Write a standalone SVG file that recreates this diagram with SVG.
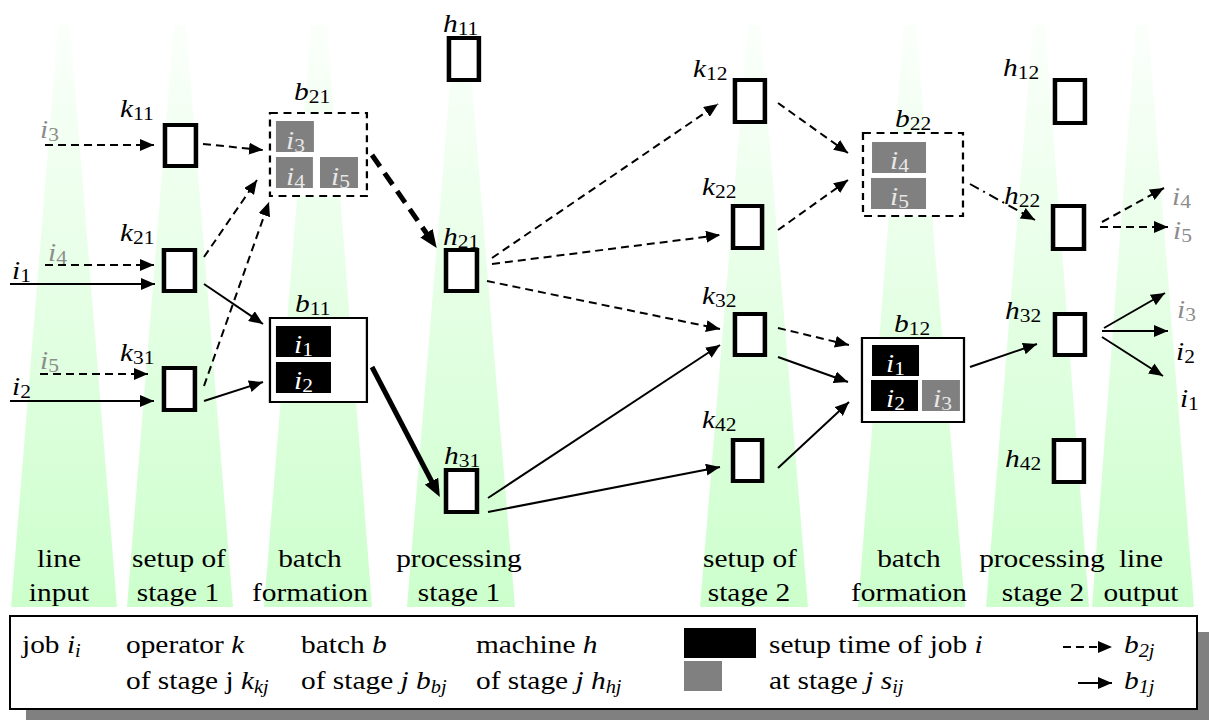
<svg xmlns="http://www.w3.org/2000/svg" width="1209" height="720" viewBox="0 0 1209 720">
<style>
text{font-family:'Liberation Serif',serif;font-size:26px}
.m{text-anchor:middle}
.i{font-style:italic}
.u{font-size:19px;font-style:normal}
.v{font-size:18px;font-style:italic}
.q{fill:#8c8c8c}
.w{fill:#fff}
.l{fill:#e8e8e8}
.b{fill:#fff;stroke:#000;stroke-width:4}
.c{fill:#fff;stroke:#000;stroke-width:2}
.e{stroke-dasharray:7 5}
.k{fill:#000}
.y{fill:#808080}
.d,.s,.o,.x,.z{fill:none;stroke:#000;stroke-width:2;marker-end:url(#a)}
.d{stroke-dasharray:8 5}
.o{stroke-dasharray:10 5 2 5}
.x,.z{stroke-width:5;marker-end:url(#A)}
.x{stroke-dasharray:14 8}
</style>
<defs>
<linearGradient id="f" x1="0" y1="0" x2="0" y2="1"><stop offset="0" stop-color="#fbfffb"/><stop offset="1" stop-color="#ccffcc"/></linearGradient>
<marker id="a" markerUnits="userSpaceOnUse" markerWidth="14" markerHeight="12" refX="14" refY="6" orient="auto"><path d="M0 0 14 6 0 12z"/></marker>
<marker id="A" markerUnits="userSpaceOnUse" markerWidth="18" markerHeight="15" refX="1" refY="7.5" orient="auto"><path d="M0 0 18 7.5 0 15z"/></marker>
</defs>
<rect width="1209" height="720" fill="#fff"/>
<!-- lanes -->
<g id="lanes" fill="url(#f)">
<path d="M58 25H70L117 607H11z"/>
<path d="M174 25H186L233 607H127z"/>
<path d="M311 25H327L372 607H264z"/>
<path d="M455 25H467L515 607H407z"/>
<path d="M748 25H760L808 607H700z"/>
<path d="M904 25H916L965 607H858z"/>
<path d="M1033 25H1045L1089 607H986z"/>
<path d="M1136 25H1148L1194 607H1092z"/>
</g>
<g id="lane-labels" class="m" transform="scale(1.13 1)">
<text x="52.2" y="567">line</text><text x="52.2" y="601">input</text>
<text x="158.4" y="567">setup of</text><text x="157.5" y="601">stage 1</text>
<text x="274.3" y="567">batch</text><text x="274.3" y="601">formation</text>
<text x="406.2" y="567">processing</text><text x="406.2" y="601">stage 1</text>
<text x="663.7" y="567">setup of</text><text x="662.8" y="601">stage 2</text>
<text x="804.4" y="567">batch</text><text x="804.4" y="601">formation</text>
<text x="922.1" y="567">processing</text><text x="923" y="601">stage 2</text>
<text x="1009.7" y="567">line</text><text x="1009.7" y="601">output</text>
</g>
<!-- flows -->
<g id="connectors">
<path class="d" d="M45 145H154"/>
<path class="d" d="M45 265H154"/>
<path class="d" d="M40 374H148"/>
<path class="s" d="M10 284H155"/>
<path class="s" d="M10 401H154"/>
<path class="d" d="M203 144 263 150"/>
<path class="d" d="M204 257 257 180"/>
<path class="d" d="M204 386 269 202"/>
<path class="s" d="M204 284 263 324"/>
<path class="s" d="M204 401 263 382"/>
<path class="x" d="M372 155 427 234"/>
<path class="z" d="M372 367 432 482"/>
<path class="d" d="M492 258 718 104"/>
<path class="d" d="M492 264 720 235"/>
<path class="d" d="M487 281 720 329"/>
<path class="s" d="M488 498 720 345"/>
<path class="s" d="M488 512 720 467"/>
<path class="d" d="M778 103 848 153"/>
<path class="d" d="M778 230 848 180"/>
<path class="d" d="M778 328 849 345"/>
<path class="s" d="M778 357 848 382"/>
<path class="s" d="M778 468 849 402"/>
<path class="o" d="M970 184 1035 220"/>
<path class="s" d="M970 367 1037 344"/>
<path class="d" d="M1102 222 1164 188"/>
<path class="d" d="M1100 227H1168"/>
<path class="s" d="M1104 328 1165 293"/>
<path class="s" d="M1102 331H1168"/>
<path class="s" d="M1102 337 1163 376"/>
</g>
<g id="jobs-in" class="i" transform="scale(1.13 1)">
<text class="q" x="35.4" y="138">i<tspan class="u" dy="3">3</tspan></text>
<text class="q" x="42.5" y="261">i<tspan class="u" dy="3">4</tspan></text>
<text class="q" x="35.4" y="369">i<tspan class="u" dy="3">5</tspan></text>
<text x="10.6" y="279">i<tspan class="u" dy="3">1</tspan></text>
<text x="10.6" y="395">i<tspan class="u" dy="3">2</tspan></text>
</g>
<!-- stage 1 -->
<g id="k11" class="i" transform="scale(1.13 1)"><rect class="b" x="146" y="125" width="27.4" height="41"/><text x="106.2" y="117">k<tspan class="u" dy="3">11</tspan></text></g>
<g id="k21" class="i" transform="scale(1.13 1)"><rect class="b" x="145.1" y="250" width="27.4" height="41"/><text x="106.2" y="241">k<tspan class="u" dy="3">21</tspan></text></g>
<g id="k31" class="i" transform="scale(1.13 1)"><rect class="b" x="145.1" y="368" width="27.4" height="42"/><text x="106.2" y="361">k<tspan class="u" dy="3">31</tspan></text></g>
<g id="b21" class="i" transform="scale(1.13 1)">
<rect class="c e" x="238.9" y="113" width="85.8" height="83"/>
<rect class="y" x="244.2" y="121" width="33.6" height="31"/>
<rect class="y" x="244.2" y="157" width="32.7" height="31"/>
<rect class="y" x="283.2" y="157" width="33.6" height="31"/>
<text class="l" x="253.1" y="149">i<tspan class="u" dy="3">3</tspan></text>
<text class="l" x="253.1" y="185">i<tspan class="u" dy="3">4</tspan></text>
<text class="l" x="292.9" y="185">i<tspan class="u" dy="3">5</tspan></text>
<text x="260.2" y="100">b<tspan class="u" dy="3">21</tspan></text>
</g>
<g id="b11" class="i" transform="scale(1.13 1)">
<rect class="c" x="238.9" y="318" width="85.8" height="84"/>
<rect class="k" x="244.2" y="326" width="48.7" height="31"/>
<rect class="k" x="244.2" y="362" width="48.7" height="31"/>
<text class="w" x="260.2" y="353">i<tspan class="u" dy="3">1</tspan></text>
<text class="w" x="260.2" y="389">i<tspan class="u" dy="3">2</tspan></text>
<text x="261.1" y="312">b<tspan class="u" dy="3">11</tspan></text>
</g>
<g id="h11" class="i" transform="scale(1.13 1)"><rect class="b" x="397.3" y="38" width="26.5" height="42"/><text x="392" y="32">h<tspan class="u" dy="3">11</tspan></text></g>
<g id="h21" class="i" transform="scale(1.13 1)"><rect class="b" x="394.7" y="250" width="27.4" height="41"/><text x="392" y="245">h<tspan class="u" dy="3">21</tspan></text></g>
<g id="h31" class="i" transform="scale(1.13 1)"><rect class="b" x="394.7" y="470" width="27.4" height="42"/><text x="392.9" y="464">h<tspan class="u" dy="3">31</tspan></text></g>
<!-- stage 2 -->
<g id="k12" class="i" transform="scale(1.13 1)"><rect class="b" x="650.4" y="80" width="26.5" height="42"/><text x="613.3" y="77">k<tspan class="u" dy="3">12</tspan></text></g>
<g id="k22" class="i" transform="scale(1.13 1)"><rect class="b" x="648.7" y="206" width="25.7" height="42"/><text x="621.2" y="195">k<tspan class="u" dy="3">22</tspan></text></g>
<g id="k32" class="i" transform="scale(1.13 1)"><rect class="b" x="650.4" y="314" width="26.5" height="41"/><text x="621.2" y="304">k<tspan class="u" dy="3">32</tspan></text></g>
<g id="k42" class="i" transform="scale(1.13 1)"><rect class="b" x="648.7" y="440" width="25.7" height="41"/><text x="621.2" y="428">k<tspan class="u" dy="3">42</tspan></text></g>
<g id="b22" class="i" transform="scale(1.13 1)">
<rect class="c e" x="763.7" y="133" width="88.5" height="83"/>
<rect class="y" x="771.7" y="142" width="47.8" height="31"/>
<rect class="y" x="770.8" y="178" width="48.7" height="31"/>
<text class="l" x="787.6" y="169">i<tspan class="u" dy="3">4</tspan></text>
<text class="l" x="787.6" y="205">i<tspan class="u" dy="3">5</tspan></text>
<text x="792" y="127">b<tspan class="u" dy="3">22</tspan></text>
</g>
<g id="b12" class="i" transform="scale(1.13 1)">
<rect class="c" x="762.8" y="338" width="90.3" height="84"/>
<rect class="k" x="771.7" y="345" width="41.6" height="31"/>
<rect class="k" x="770.8" y="380" width="41.6" height="31"/>
<rect class="y" x="815.9" y="380" width="33.6" height="31"/>
<text class="w" x="784.1" y="372">i<tspan class="u" dy="3">1</tspan></text>
<text class="w" x="784.1" y="407">i<tspan class="u" dy="3">2</tspan></text>
<text class="l" x="825.7" y="407">i<tspan class="u" dy="3">3</tspan></text>
<text x="791.2" y="332">b<tspan class="u" dy="3">12</tspan></text>
</g>
<g id="h12" class="i" transform="scale(1.13 1)"><rect class="b" x="933.6" y="80" width="26.5" height="43"/><text x="887.6" y="76">h<tspan class="u" dy="3">12</tspan></text></g>
<g id="h22" class="i" transform="scale(1.13 1)"><rect class="b" x="931.9" y="206" width="27.4" height="43"/><text x="888.5" y="204">h<tspan class="u" dy="3">22</tspan></text></g>
<g id="h32" class="i" transform="scale(1.13 1)"><rect class="b" x="933.6" y="314" width="26.5" height="41"/><text x="889.4" y="319">h<tspan class="u" dy="3">32</tspan></text></g>
<g id="h42" class="i" transform="scale(1.13 1)"><rect class="b" x="932.7" y="440" width="26.5" height="42"/><text x="889.4" y="467">h<tspan class="u" dy="3">42</tspan></text></g>
<g id="jobs-out" class="i" transform="scale(1.13 1)">
<text class="q" x="1037.2" y="205">i<tspan class="u" dy="3">4</tspan></text>
<text class="q" x="1038.1" y="239">i<tspan class="u" dy="3">5</tspan></text>
<text class="q" x="1041.6" y="318">i<tspan class="u" dy="3">3</tspan></text>
<text x="1040.7" y="360">i<tspan class="u" dy="3">2</tspan></text>
<text x="1044.2" y="407">i<tspan class="u" dy="3">1</tspan></text>
</g>
<!-- legend -->
<g id="legend">
<rect x="26" y="632" width="1183" height="88" fill="#808080"/>
<rect class="c" x="10" y="616" width="1187" height="93"/>
<rect class="k" x="684" y="628" width="72" height="30"/>
<rect class="y" x="684" y="661" width="38" height="30"/>
<path class="d" d="M1063 647H1112"/>
<path class="s" d="M1078 683H1112"/>
<g transform="scale(1.13 1)">
<text x="19.5" y="653">job <tspan class="i">i</tspan><tspan class="v" dy="4">i</tspan></text>
<text x="111.5" y="653">operator <tspan class="i">k</tspan></text>
<text x="111.5" y="689">of stage j <tspan class="i">k</tspan><tspan class="v" dy="4">kj</tspan></text>
<text x="266.4" y="653">batch <tspan class="i">b</tspan></text>
<text x="266.4" y="689">of stage <tspan class="i">j b</tspan><tspan class="v" dy="4">bj</tspan></text>
<text x="421.2" y="653">machine <tspan class="i">h</tspan></text>
<text x="421.2" y="689">of stage <tspan class="i">j h</tspan><tspan class="v" dy="4">hj</tspan></text>
<text x="680.5" y="653">setup time of job <tspan class="i">i</tspan></text>
<text x="680.5" y="689">at stage <tspan class="i">j s</tspan><tspan class="v" dy="4">ij</tspan></text>
<text class="i" x="994.7" y="653">b<tspan class="v" dy="4">2j</tspan></text>
<text class="i" x="994.7" y="689">b<tspan class="v" dy="4">1j</tspan></text>
</g>
</g>
</svg>
